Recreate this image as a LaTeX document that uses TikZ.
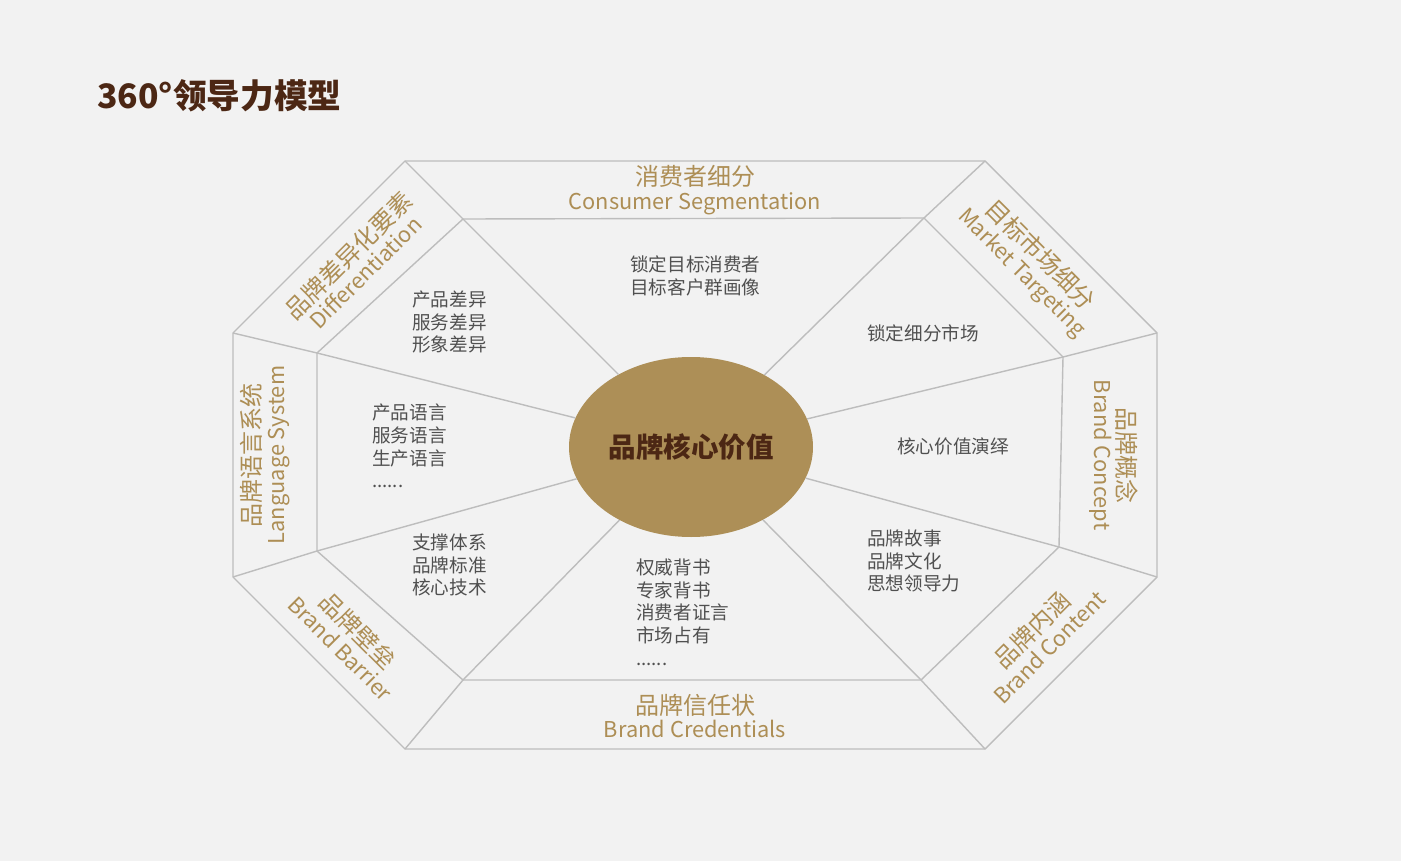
\documentclass[tikz,border=0pt]{standalone}
\usepackage{fontspec}
\setmainfont{Noto Sans CJK SC}
\usetikzlibrary{shapes.geometric}
\definecolor{bgc}{HTML}{F2F2F2}
\definecolor{linec}{HTML}{BDBDBD}
\definecolor{goldc}{HTML}{AD8E55}
\definecolor{fillc}{HTML}{AD8F57}
\definecolor{darkc}{HTML}{4C2714}
\definecolor{bodyc}{HTML}{505050}
\newcommand\englabel[1]{{\fontsize{21.8}{23.5}\selectfont #1}}
\tikzset{
  frame/.style={draw=linec, line width=1.4pt, line join=miter},
  spoke/.style={draw=linec, line width=1.4pt},
  head/.style={text=goldc, align=center, inner sep=0pt, font=\fontsize{24}{23.5}\selectfont},
  body/.style={text=bodyc, align=left, inner sep=0pt, font=\fontsize{18.6}{22.7}\selectfont},
  core/.style={ellipse, fill=fillc, minimum width=244pt, minimum height=180pt, inner sep=0pt,
               text=darkc, font=\fontsize{27.5}{30}\selectfont\bfseries},
}
\begin{document}
\begin{tikzpicture}[x=1pt,y=-1pt]
\fill[bgc] (0,0) rectangle (1401,861);
\useasboundingbox (0,0) rectangle (1401,861);

% title
\node[anchor=west, inner sep=0pt, text=darkc, font=\fontsize{33.7}{36}\selectfont\bfseries] (title) at (97,96) {360°领导力模型};

% outer vertices
\coordinate (O1) at (405,161);
\coordinate (O2) at (985,161);
\coordinate (O3) at (1157,333);
\coordinate (O4) at (1157,577);
\coordinate (O5) at (985,749);
\coordinate (O6) at (405,749);
\coordinate (O7) at (233,577);
\coordinate (O8) at (233,333);
% inner vertices
\coordinate (I1) at (463,219);
\coordinate (I2) at (924,218);
\coordinate (I3) at (1063,357);
\coordinate (I4) at (1059,547);
\coordinate (I5) at (921,680);
\coordinate (I6) at (463,680);
\coordinate (I7) at (317,551);
\coordinate (I8) at (317,353);

\draw[frame] (O1) -- (O2) -- (O3) -- (O4) -- (O5) -- (O6) -- (O7) -- (O8) -- cycle;
\draw[frame] (I1) -- (I2) -- (I3) -- (I4) -- (I5) -- (I6) -- (I7) -- (I8) -- cycle;
\foreach \k in {1,...,8} { \draw[spoke] (O\k) -- (I\k); }

\node[core] (core) at (691,447) {品牌核心价值};
\foreach \k in {1,...,8} { \draw[spoke] (I\k) -- (core); }

% sector headings
\node[head] (hTop) at (695,190) {消费者细分\\\englabel{Consumer Segmentation}};
\node[head] (hBot) at (695,716) {品牌信任状\\\englabel{Brand Credentials}};
\node[head, rotate=45] (hDiff) at (356,263) {品牌差异化要素\\\englabel{Differentiation}};
\node[head, rotate=-45] (hMkt) at (1031,264) {目标市场细分\\\englabel{Market Targeting}};
\node[head, rotate=-90] (hCon) at (1114,455) {品牌概念\\\englabel{Brand Concept}};
\node[head, rotate=45] (hCont) at (1040,638) {品牌内涵\\\englabel{Brand Content}};
\node[head, rotate=-45] (hBar) at (350,639) {品牌壁垒\\\englabel{Brand Barrier}};
\node[head, rotate=90] (hLang) at (265,455) {品牌语言系统\\\englabel{Language System}};

% sector bodies
\node[body, anchor=west] (b1) at (630,276) {锁定目标消费者\\目标客户群画像};
\node[body, anchor=west] (b2) at (412,322) {产品差异\\服务差异\\形象差异};
\node[body, anchor=west] (b3) at (867,333) {锁定细分市场};
\node[body, anchor=west] (b4) at (372,446) {产品语言\\服务语言\\生产语言\\......};
\node[body, anchor=west] (b5) at (897,446) {核心价值演绎};
\node[body, anchor=west] (b6) at (412,565) {支撑体系\\品牌标准\\核心技术};
\node[body, anchor=west] (b7) at (636,612) {权威背书\\专家背书\\消费者证言\\市场占有\\......};
\node[body, anchor=west] (b8) at (867,561) {品牌故事\\品牌文化\\思想领导力};
\end{tikzpicture}
\end{document}
